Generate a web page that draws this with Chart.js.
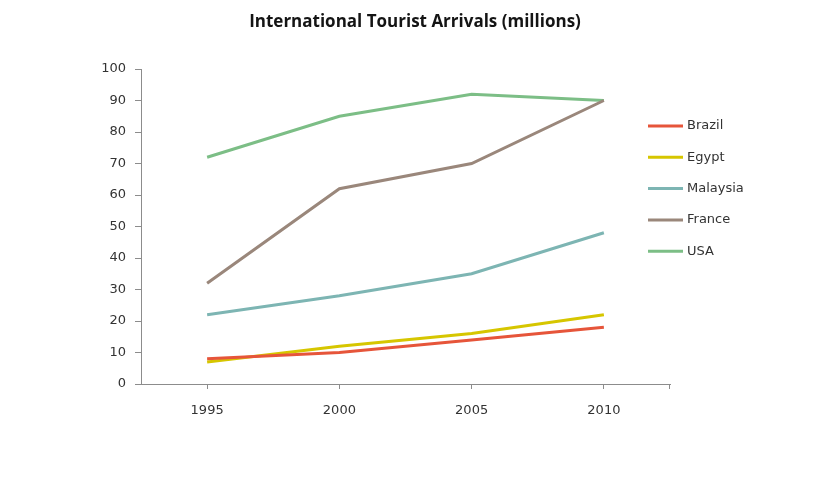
<!DOCTYPE html>
<html>
<head>
<meta charset="utf-8">
<script src="https://cdn.jsdelivr.net/npm/chart.js@4/dist/chart.umd.min.js"></script>
<style>
  html, body { margin: 0; padding: 0; background: #ffffff; }
  #wrap { width: 815px; height: 495px; position: relative; }
</style>
</head>
<body>
<div id="wrap"><canvas id="c" width="815" height="495"></canvas></div>
<script>
const chartTitle = 'International Tourist Arrivals (millions)';
const years = ['1995', '2000', '2005', '2010'];
const seriesNames = ['Brazil', 'Egypt', 'Malaysia', 'France', 'USA'];
const brazil   = [8, 10, 14, 18];
const egypt    = [7, 12, 16, 22];
const malaysia = [22, 28, 35, 48];
const france   = [32, 62, 70, 90];
const usa      = [72, 85, 92, 90];
const seriesColors = ['#E6553A', '#D6C600', '#7DB5B3', '#9A877B', '#7CBE86'];
const yTicks = [0, 10, 20, 30, 40, 50, 60, 70, 80, 90, 100];

const seriesValues = [brazil, egypt, malaysia, france, usa];
const TEXT = '#333333';
const AXIS = '#8c8c8c';
const FONT = "'DejaVu Sans', sans-serif";

const overlayPlugin = {
  id: 'overlay',
  afterDraw(chart) {
    const ctx = chart.ctx;
    ctx.save();
    // closing tick at the right end of the category axis
    const xs = chart.scales.x;
    ctx.strokeStyle = AXIS;
    ctx.lineWidth = 1;
    ctx.beginPath();
    ctx.moveTo(Math.round(xs.right) - 0.5, xs.top);
    ctx.lineTo(Math.round(xs.right) - 0.5, xs.top + 5);
    ctx.stroke();
    // title
    ctx.fillStyle = '#141414';
    ctx.font = "bold 17px 'Open Sans', sans-serif";
    ctx.textAlign = 'center';
    ctx.textBaseline = 'middle';
    ctx.fillText(chartTitle, 415, 22);
    // legend
    ctx.font = '13px ' + FONT;
    ctx.textAlign = 'left';
    chart.data.datasets.forEach((ds, i) => {
      const y = 126 + i * 31.3;
      ctx.strokeStyle = ds.borderColor;
      ctx.lineWidth = 3;
      ctx.beginPath();
      ctx.moveTo(648, y);
      ctx.lineTo(683, y);
      ctx.stroke();
      ctx.fillStyle = TEXT;
      ctx.fillText(ds.label, 687, y);
    });
    ctx.restore();
  }
};

new Chart(document.getElementById('c'), {
  type: 'line',
  data: {
    labels: years,
    datasets: seriesNames.map((n, i) => ({
      label: n,
      data: seriesValues[i],
      borderColor: seriesColors[i],
      backgroundColor: seriesColors[i],
      borderWidth: 3,
      pointRadius: 0,
      tension: 0,
      fill: false
    }))
  },
  options: {
    responsive: false,
    animation: false,
    devicePixelRatio: 1,
    layout: { padding: { left: 0, right: 145, top: 69, bottom: 71 } },
    plugins: {
      legend: { display: false },
      title: { display: false },
      tooltip: { enabled: false }
    },
    scales: {
      x: {
        type: 'category',
        offset: true,
        afterFit(s) { s.height = 40; },
        grid: { display: true, drawOnChartArea: false, offset: false, color: AXIS, tickLength: 5, tickColor: AXIS },
        border: { display: true, color: AXIS, width: 1 },
        ticks: { color: TEXT, font: { family: FONT, size: 13 }, padding: 14, maxRotation: 0 }
      },
      y: {
        min: 0,
        max: 100,
        afterFit(s) { s.width = 141; },
        afterBuildTicks(s) { s.ticks = yTicks.map(v => ({ value: v })); },
        grid: { display: true, drawOnChartArea: false, color: AXIS, tickLength: 6, tickColor: AXIS },
        border: { display: true, color: AXIS, width: 1 },
        ticks: { color: TEXT, font: { family: FONT, size: 13 }, padding: 9 }
      }
    }
  },
  plugins: [overlayPlugin]
});
</script>
</body>
</html>
